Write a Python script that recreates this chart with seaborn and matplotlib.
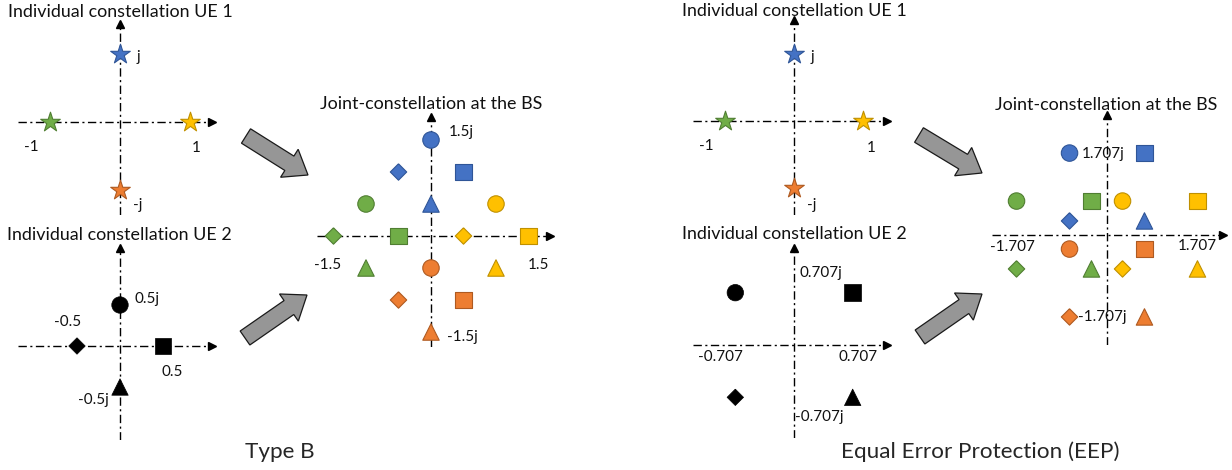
import numpy as np
import pandas as pd
import matplotlib
matplotlib.use("Agg")
import matplotlib.pyplot as plt
from matplotlib.patches import FancyArrow
import seaborn as sns

# ---- data -------------------------------------------------------------
# UE 1 (stars), same in both schemes
ue1_colour = ["blue", "yellow", "green", "orange"]
ue1_re = [0, 1, -1, 0]
ue1_im = [1, 0, 0, -1]

# UE 2 (black shapes)
ue2_shape = ["circle", "square", "diamond", "triangle"]
typeb_ue2_re = [0, 0.5, -0.5, 0]
typeb_ue2_im = [0.5, 0, 0, -0.5]
eep_ue2_re = [-0.707, 0.707, -0.707, 0.707]
eep_ue2_im = [0.707, 0.707, -0.707, -0.707]

# joint constellation at the BS, colour = UE1 symbol, shape = UE2 symbol
joint_colour = ["blue"] * 4 + ["yellow"] * 4 + ["green"] * 4 + ["orange"] * 4
joint_shape = ue2_shape * 4
typeb_joint_re = [0, 0.5, -0.5, 0,   1, 1.5, 0.5, 1,   -1, -0.5, -1.5, -1,   0, 0.5, -0.5, 0]
typeb_joint_im = [1.5, 1, 1, 0.5,   0.5, 0, 0, -0.5,   0.5, 0, 0, -0.5,   -0.5, -1, -1, -1.5]
eep_joint_re = [-0.707, 0.707, -0.707, 0.707,   0.293, 1.707, 0.293, 1.707,
                -1.707, -0.293, -1.707, -0.293,   -0.707, 0.707, -0.707, 0.707]
eep_joint_im = [1.707, 1.707, 0.293, 0.293,   0.707, 0.707, -0.707, -0.707,
                0.707, 0.707, -0.707, -0.707,   -0.293, -0.293, -1.707, -1.707]

face = {"blue": "#4472C4", "yellow": "#FFC000", "green": "#70AD47", "orange": "#ED7D31"}
edge = {"blue": "#2F5597", "yellow": "#BF9000", "green": "#507E32", "orange": "#AE5A21"}
diamond = [(0, 1), (1, 0), (0, -1), (-1, 0), (0, 1)]
marker_map = {"circle": "o", "square": "s", "diamond": diamond, "triangle": "^"}

# ---- figure -----------------------------------------------------------
sns.set_style("white")
plt.rcParams["font.family"] = ["Lato", "DejaVu Sans"]

W, H = 1232, 470
fig = plt.figure(figsize=(W / 100, H / 100), dpi=100)

overlay = fig.add_axes([0, 0, 1, 1])
overlay.set_xlim(0, W)
overlay.set_ylim(H, 0)
overlay.axis("off")


def panel(x0, x1, y0, y1, ox, oy, sx, sy):
    # axes box in pixels, origin (ox, oy) in pixels, sx/sy pixels per unit
    ax = fig.add_axes([x0 / W, 1 - y1 / H, (x1 - x0) / W, (y1 - y0) / H])
    ax.set_xlim((x0 - ox) / sx, (x1 - ox) / sx)
    ax.set_ylim((oy - y1) / sy, (oy - y0) / sy)
    ax.axis("off")
    xl, yl = ax.get_xlim(), ax.get_ylim()
    ls = (0, (6, 2.5, 1.5, 2.5))
    ax.plot(xl, [0, 0], color="black", lw=1, ls=ls, zorder=1)
    ax.plot([0, 0], yl, color="black", lw=1, ls=ls, zorder=1)
    ax.plot(xl[1], 0, marker=">", color="black", ms=6, clip_on=False)
    ax.plot(0, yl[1], marker="^", color="black", ms=6, clip_on=False)
    return ax


def stars(ax):
    df = pd.DataFrame({"re": ue1_re, "im": ue1_im, "c": ue1_colour})
    for c, sub in df.groupby("c"):
        sns.scatterplot(data=sub, x="re", y="im", marker="*", s=220, color=face[c],
                        edgecolor=edge[c], linewidth=0.8, legend=False, ax=ax, zorder=3)


def black(ax, re, im):
    df = pd.DataFrame({"re": re, "im": im, "shape": ue2_shape})
    sns.scatterplot(data=df, x="re", y="im", style="shape", markers=marker_map, s=140,
                    color="black", edgecolor="black", linewidth=0.5, legend=False,
                    ax=ax, zorder=3)


def joint(ax, re, im):
    df = pd.DataFrame({"re": re, "im": im, "c": joint_colour, "shape": joint_shape})
    for c, sub in df.groupby("c"):
        sns.scatterplot(data=sub, x="re", y="im", style="shape", markers=marker_map,
                        s=140, color=face[c], edgecolor=edge[c], linewidth=0.8,
                        legend=False, ax=ax, zorder=3)


# Type B
ax = panel(18, 212, 24, 215, 120, 122, 70, 68)
stars(ax)
ax = panel(18, 212, 248, 440, 120, 346, 86, 82)
black(ax, typeb_ue2_re, typeb_ue2_im)
ax = panel(317, 550, 117, 347, 431, 236, 65, 64)
joint(ax, typeb_joint_re, typeb_joint_im)

# EEP
ax = panel(693, 887, 20, 215, 794, 121, 69, 67)
stars(ax)
ax = panel(693, 887, 248, 438, 794, 345, 83, 74)
black(ax, eep_ue2_re, eep_ue2_im)
ax = panel(992, 1223, 115, 345, 1107, 235, 53, 48)
joint(ax, eep_joint_re, eep_joint_im)

# big grey arrows
for (x, y, x2, y2) in [(246, 136, 308, 175), (245, 338, 307, 295),
                       (919, 135, 982, 173), (920, 337, 982, 294)]:
    overlay.add_patch(FancyArrow(x, y, x2 - x, y2 - y, width=17, head_width=33,
                                 head_length=22, length_includes_head=True,
                                 facecolor="#969696", edgecolor="#1a1a1a", lw=0.9))

# texts
title_fs, lab_fs, cap_fs = 12.9, 11, 16.2
for (x, y, t) in [(120, 12, "Individual constellation UE 1"),
                  (119, 235, "Individual constellation UE 2"),
                  (431, 104, "Joint-constellation at the BS"),
                  (794, 11, "Individual constellation UE 1"),
                  (794, 234, "Individual constellation UE 2"),
                  (1106, 105, "Joint-constellation at the BS")]:
    overlay.text(x, y, t, fontsize=title_fs, ha="center", va="center", color="#111111")

for (x, y, t) in [(138, 57, "j"), (31, 147, "-1"), (196, 148, "1"), (138, 205, "-j"),
                  (147, 299, "0.5j"), (68, 322, "-0.5"), (172, 372, "0.5"), (93, 400, "-0.5j"),
                  (461, 132, "1.5j"), (328, 265, "-1.5"), (538, 265, "1.5"), (462, 337, "-1.5j"),
                  (812, 57, "j"), (706, 146, "-1"), (871, 148, "1"), (812, 205, "-j"),
                  (821, 273, "0.707j"), (720, 357, "-0.707"), (858, 357, "0.707"),
                  (819, 417, "-0.707j"),
                  (1103, 154, "1.707j"), (1012, 247, "-1.707"), (1197, 246, "1.707"),
                  (1102, 317, "-1.707j")]:
    overlay.text(x, y, t, fontsize=lab_fs, ha="center", va="center", color="#111111",
                 zorder=5)

overlay.text(280, 452, "Type B", fontsize=cap_fs, ha="center", va="center")
overlay.text(980, 452, "Equal Error Protection (EEP)", fontsize=cap_fs, ha="center",
             va="center")

fig.savefig("out.png", dpi=100)
